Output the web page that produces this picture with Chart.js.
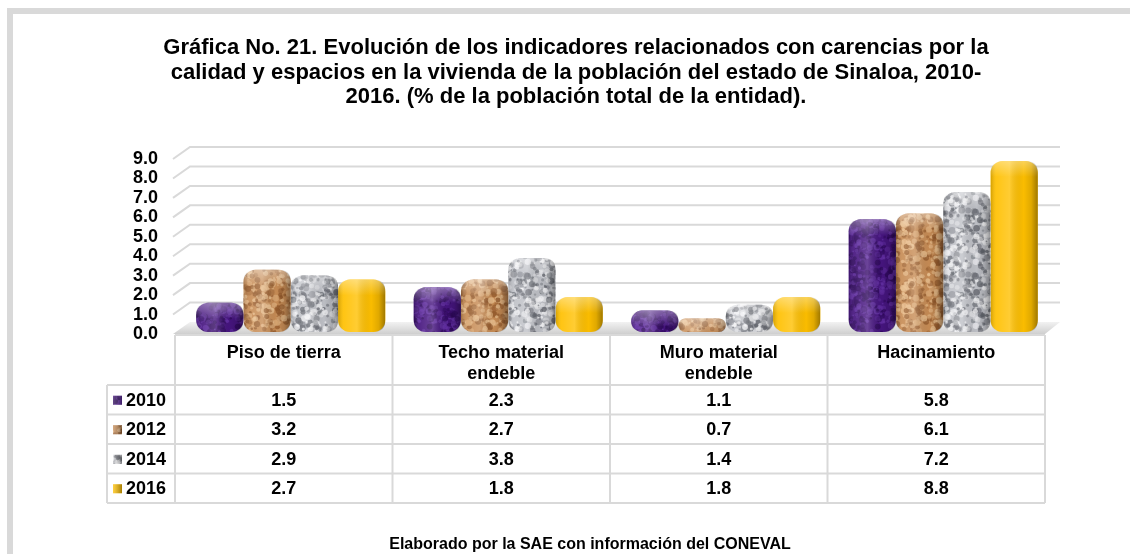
<!DOCTYPE html>
<html>
<head>
<meta charset="utf-8">
<script src="https://cdn.jsdelivr.net/npm/chart.js@4.4.1/dist/chart.umd.min.js"></script>
<style>
  html, body { margin: 0; padding: 0; background: #fff; }
  canvas { display: block; }
</style>
</head>
<body>
<canvas id="myBarChart" width="1130" height="554"></canvas>
<script>
// Datos de la gráfica
const categories = ["Piso de tierra", ["Techo material", "endeble"], ["Muro material", "endeble"], "Hacinamiento"];
const years = ["2010", "2012", "2014", "2016"];
const values2010 = [1.5, 2.3, 1.1, 5.8];
const values2012 = [3.2, 2.7, 0.7, 6.1];
const values2014 = [2.9, 3.8, 1.4, 7.2];
const values2016 = [2.7, 1.8, 1.8, 8.8];
const yTicks = [0, 1, 2, 3, 4, 5, 6, 7, 8, 9];

const titleLines = [
  "Gráfica No. 21. Evolución de los indicadores relacionados con carencias por la",
  "calidad y espacios en la vivienda de la población del estado de Sinaloa, 2010-",
  "2016. (% de la población total de la entidad)."
];
const footerText = "Elaborado por la SAE con información del CONEVAL";

const FONT = "Arial, 'Liberation Sans', sans-serif";
const GRID = "#d9d9d9";

// small deterministic generator, only used for the bar textures
function lcg(seed) {
  let s = seed;
  return function () {
    s = (s * 1664525 + 1013904223) % 4294967296;
    return s / 4294967296;
  };
}

// mottled texture like the office "marble / cork" fills
function makeTexture(base, dark, light, seed) {
  const c = document.createElement("canvas");
  c.width = 64;
  c.height = 64;
  const g = c.getContext("2d");
  g.fillStyle = base;
  g.fillRect(0, 0, 64, 64);
  const rnd = lcg(seed);
  for (let i = 0; i < 300; i++) {
    const x = rnd() * 64;
    const y = rnd() * 64;
    const r = 0.8 + rnd() * 2.6;
    g.fillStyle = rnd() < 0.5 ? dark : light;
    g.globalAlpha = 0.35 + rnd() * 0.45;
    for (let dx = -64; dx <= 64; dx += 64) {
      for (let dy = -64; dy <= 64; dy += 64) {
        g.beginPath();
        g.arc(x + dx, y + dy, r, 0, Math.PI * 2);
        g.fill();
      }
    }
  }
  return document.getElementById("myBarChart").getContext("2d").createPattern(c, "repeat");
}

const fills = [
  makeTexture("#46157f", "#2c0858", "#6532a6", 11),
  makeTexture("#c78c55", "#945a2c", "#ebc190", 23),
  makeTexture("#bfc1c7", "#62656d", "#f6f6f8", 37),
  "#ffc000"
];

const seriesValues = [values2010, values2012, values2014, values2016];

function roundRectPath(ctx, x0, y0, x1, y1, r) {
  ctx.beginPath();
  ctx.moveTo(x0 + r, y0);
  ctx.lineTo(x1 - r, y0);
  ctx.quadraticCurveTo(x1, y0, x1, y0 + r);
  ctx.lineTo(x1, y1 - r);
  ctx.quadraticCurveTo(x1, y1, x1 - r, y1);
  ctx.lineTo(x0 + r, y1);
  ctx.quadraticCurveTo(x0, y1, x0, y1 - r);
  ctx.lineTo(x0, y0 + r);
  ctx.quadraticCurveTo(x0, y0, x0 + r, y0);
  ctx.closePath();
}

const decor = {
  id: "decor",
  beforeDraw(chart) {
    const ctx = chart.ctx;
    ctx.save();
    ctx.fillStyle = "#ffffff";
    ctx.fillRect(0, 0, chart.width, chart.height);
    // frame
    ctx.fillStyle = GRID;
    ctx.fillRect(7, 8, chart.width - 7, 6);
    ctx.fillRect(7, 8, 6, chart.height - 8);
    // title
    ctx.fillStyle = "#000";
    ctx.font = "bold 22px " + FONT;
    ctx.textAlign = "center";
    ctx.textBaseline = "middle";
    titleLines.forEach(function (line, i) {
      ctx.fillText(line, 576, 48 + i * 24.5);
    });
    ctx.restore();
  },
  beforeDatasetsDraw(chart) {
    const ctx = chart.ctx;
    const ca = chart.chartArea;
    const y = chart.scales.y;
    ctx.save();
    // floor
    const fg = ctx.createLinearGradient(0, ca.bottom - 12, 0, ca.bottom);
    fg.addColorStop(0, "#f2f2f2");
    fg.addColorStop(1, "#cfcfcf");
    ctx.fillStyle = fg;
    ctx.beginPath();
    ctx.moveTo(ca.left - 2, ca.bottom);
    ctx.lineTo(ca.left + 15, ca.bottom - 12);
    ctx.lineTo(ca.right + 15, ca.bottom - 12);
    ctx.lineTo(ca.right, ca.bottom);
    ctx.closePath();
    ctx.fill();
    // back wall grid lines
    ctx.strokeStyle = GRID;
    ctx.lineWidth = 2;
    yTicks.forEach(function (v) {
      if (v === 0) return;
      const py = y.getPixelForValue(v);
      ctx.beginPath();
      ctx.moveTo(ca.left - 2, py);
      ctx.lineTo(ca.left + 15, py - 12);
      ctx.lineTo(ca.right + 15, py - 12);
      ctx.stroke();
    });
    ctx.restore();
    // bars sit a little back on the floor
    ctx.save();
    ctx.translate(7, -2);
  },
  afterDatasetsDraw(chart) {
    const ctx = chart.ctx;
    chart.data.datasets.forEach(function (ds, di) {
      chart.getDatasetMeta(di).data.forEach(function (bar) {
        const x0 = bar.x - bar.width / 2;
        const x1 = bar.x + bar.width / 2;
        const y0 = Math.min(bar.y, bar.base);
        const y1 = Math.max(bar.y, bar.base);
        const r = Math.min(12, (y1 - y0) / 2, bar.width / 2);
        ctx.save();
        roundRectPath(ctx, x0, y0, x1, y1, r);
        ctx.clip();
        const hg = ctx.createLinearGradient(x0, 0, x1, 0);
        hg.addColorStop(0, "rgba(0,0,0,0.18)");
        hg.addColorStop(0.12, "rgba(255,255,255,0.08)");
        hg.addColorStop(0.4, "rgba(255,255,255,0.2)");
        hg.addColorStop(0.7, "rgba(0,0,0,0.02)");
        hg.addColorStop(0.86, "rgba(0,0,0,0.12)");
        hg.addColorStop(1, "rgba(0,0,0,0.38)");
        ctx.fillStyle = hg;
        ctx.fillRect(x0, y0, x1 - x0, y1 - y0);
        const vg = ctx.createLinearGradient(0, y0, 0, y0 + 16);
        vg.addColorStop(0, "rgba(255,255,255,0.35)");
        vg.addColorStop(1, "rgba(255,255,255,0)");
        ctx.fillStyle = vg;
        ctx.fillRect(x0, y0, x1 - x0, Math.min(16, y1 - y0));
        ctx.restore();
      });
    });
    ctx.restore();
  },
  afterDraw(chart) {
    const ctx = chart.ctx;
    const ca = chart.chartArea;
    const colW = ca.width / categories.length;
    const headTop = ca.bottom + 1;
    const headBottom = 385;
    const rowH = 29.5;
    const legendLeft = 107;
    const tableBottom = headBottom + rowH * years.length;
    ctx.save();
    ctx.strokeStyle = GRID;
    ctx.lineWidth = 2;
    // horizontal lines
    ctx.beginPath();
    ctx.moveTo(ca.left, headTop);
    ctx.lineTo(ca.right, headTop);
    for (let r = 0; r <= years.length; r++) {
      const yy = headBottom + r * rowH;
      ctx.moveTo(legendLeft, yy);
      ctx.lineTo(ca.right, yy);
    }
    // vertical lines
    ctx.moveTo(legendLeft, headBottom);
    ctx.lineTo(legendLeft, tableBottom);
    for (let c = 0; c <= categories.length; c++) {
      const xx = ca.left + c * colW;
      ctx.moveTo(xx, headTop);
      ctx.lineTo(xx, tableBottom);
    }
    ctx.stroke();

    ctx.fillStyle = "#000";
    ctx.font = "bold 18px " + FONT;
    ctx.textAlign = "center";
    ctx.textBaseline = "middle";
    categories.forEach(function (cat, i) {
      const cx = ca.left + (i + 0.5) * colW;
      const lines = Array.isArray(cat) ? cat : [cat];
      lines.forEach(function (ln, k) {
        ctx.fillText(ln, cx, 353 + k * 21);
      });
    });
    years.forEach(function (yr, r) {
      const cy = headBottom + (r + 0.5) * rowH + 1;
      // legend key
      ctx.fillStyle = fills[r];
      ctx.fillRect(113, cy - 5, 9, 9);
      const kg = ctx.createLinearGradient(113, 0, 122, 0);
      kg.addColorStop(0, "rgba(255,255,255,0.25)");
      kg.addColorStop(1, "rgba(0,0,0,0.35)");
      ctx.fillStyle = kg;
      ctx.fillRect(113, cy - 5, 9, 9);
      ctx.fillStyle = "#000";
      ctx.textAlign = "left";
      ctx.fillText(yr, 126, cy);
      ctx.textAlign = "center";
      seriesValues[r].forEach(function (v, i) {
        ctx.fillText(v.toFixed(1), ca.left + (i + 0.5) * colW, cy);
      });
    });

    // footer
    ctx.font = "bold 16px " + FONT;
    ctx.fillText(footerText, 590, 545);
    ctx.restore();
  }
};

const ctx = document.getElementById("myBarChart").getContext("2d");
const myBarChart = new Chart(ctx, {
  type: "bar",
  data: {
    labels: categories,
    datasets: years.map(function (yr, i) {
      return {
        label: yr,
        data: seriesValues[i],
        backgroundColor: fills[i],
        borderWidth: 0,
        borderRadius: 12,
        borderSkipped: false,
        categoryPercentage: 0.87,
        barPercentage: 1.0
      };
    })
  },
  options: {
    responsive: false,
    animation: false,
    layout: {
      padding: { top: 159, bottom: 220, left: 0, right: 85 }
    },
    plugins: {
      legend: { display: false },
      tooltip: { enabled: false },
      title: { display: false }
    },
    scales: {
      x: { display: false },
      y: {
        min: 0,
        max: 9,
        afterFit: function (scale) {
          scale.width = 175;
        },
        ticks: {
          stepSize: 1,
          autoSkip: false,
          padding: 17,
          color: "#000",
          font: { family: FONT, size: 18, weight: "bold" },
          callback: function (value) {
            return value.toFixed(1);
          }
        },
        grid: { display: false, drawTicks: false },
        border: { display: false }
      }
    }
  },
  plugins: [decor]
});
</script>
</body>
</html>
